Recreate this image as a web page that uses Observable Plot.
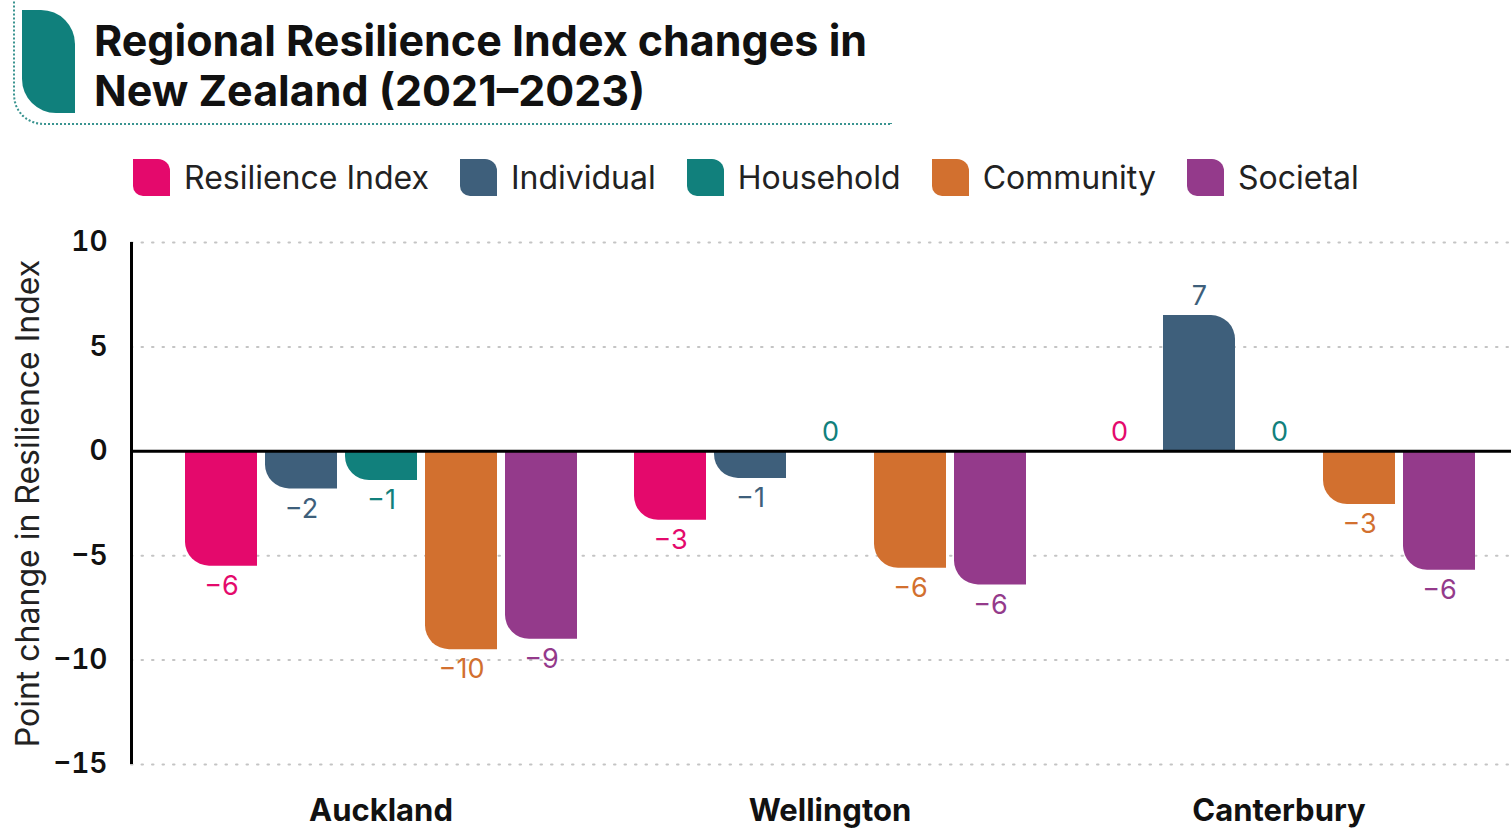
<!DOCTYPE html>
<html><head><meta charset="utf-8">
<script src="https://cdn.jsdelivr.net/npm/d3@7"></script>
<script src="https://cdn.jsdelivr.net/npm/@observablehq/plot@0.6"></script>
<style>
html,body{margin:0;padding:0;background:#fff;width:1511px;height:829px;overflow:hidden;font-family:Inter,"Noto Sans",sans-serif;}
#title-box{position:absolute;left:13px;top:-4px;width:877px;height:127px;border-left:2px dotted #3a9490;border-bottom:2px dotted #3a9490;border-bottom-left-radius:30px;}
#leaf{position:absolute;left:22px;top:10px;width:53px;height:103px;background:#10807c;border-radius:0 34px 0 34px;}
#title{position:absolute;left:94px;top:15px;font-size:43px;font-weight:700;line-height:50px;color:#111;white-space:nowrap;}
#legend{position:absolute;left:133px;top:158px;display:flex;align-items:center;}
.item{display:flex;align-items:center;margin-right:31px;font-size:32px;color:#222;}
.sw{width:37px;height:37px;border-radius:0 12px 0 10px;margin-right:14px;}
#chart{position:absolute;left:0;top:200px;width:1529px;height:629px;}
#chart svg{position:absolute;left:0;top:0;}
#chart svg.axisC g[aria-label^="y-axis"] text{font-weight:600;}
</style>
</head><body>
<div id="title-box"></div>
<div id="leaf"></div>
<div id="title">Regional Resilience Index changes in<br>New Zealand (2021–2023)</div>
<div id="legend"></div>
<div id="chart"></div>
<script>
const regions = ["Auckland", "Wellington", "Canterbury"];
const categories = ["Resilience Index", "Individual", "Household", "Community", "Societal"];
const colors = ["#e4096c", "#3e5f7b", "#11807c", "#d2702f", "#943a8b"];
const aucklandValues = [-5.5, -1.8, -1.4, -9.5, -9.0];
const wellingtonValues = [-3.3, -1.3, 0, -5.6, -6.4];
const canterburyValues = [0, 6.5, 0, -2.55, -5.7];
const yTicks = [-15, -10, -5, 0, 5, 10];
const yLabel = "Point change in Resilience Index";

const valuesByRegion = [aucklandValues, wellingtonValues, canterburyValues];
const rows = regions.flatMap((r, i) => categories.map((c, j) => ({region: r, category: c, value: valuesByRegion[i][j]})));
const fmt = d3.format(".0f");

// legend
const legend = document.getElementById("legend");
categories.forEach((c, i) => {
  const it = document.createElement("div"); it.className = "item";
  const sw = document.createElement("div"); sw.className = "sw"; sw.style.background = colors[i];
  const tx = document.createElement("span"); tx.textContent = c;
  it.appendChild(sw); it.appendChild(tx); legend.appendChild(it);
});

const W = 1529, H = 629;
const common = {width: W, height: H, marginLeft: 131, marginRight: 0, marginTop: 42, marginBottom: 65};
const font = "Inter, 'Noto Sans', sans-serif";

// layer A: grid
const gridPlot = Plot.plot({
  ...common,
  style: {background: "transparent", fontFamily: font},
  y: {domain: [-15, 10], axis: null},
  marks: [
    Plot.ruleY(yTicks.filter(t => t !== 0), {stroke: "#c4c4c4", strokeWidth: 2, strokeDasharray: "1.5,9", strokeLinecap: "round"})
  ]
});

// layer B: bars
const barPlot = Plot.plot({
  ...common,
  style: {background: "transparent", fontFamily: font, overflow: "visible"},
  y: {domain: [-15, 10], axis: null},
  x: {domain: categories, padding: 0.1, axis: null},
  fx: {domain: regions, paddingInner: 0.089, paddingOuter: 0.1, axis: null},
  color: {domain: categories, range: colors},
  marks: [
    Plot.barY(rows, {fx: "region", x: "category", y: "value", fill: "category"}),
    Plot.text(rows.filter(d => d.value < 0), {fx: "region", x: "category", y: "value", text: d => fmt(d.value), fill: "category", dy: 20, fontSize: 27}),
    Plot.text(rows.filter(d => d.value >= 0), {fx: "region", x: "category", y: "value", text: d => fmt(d.value), fill: "category", dy: -19, fontSize: 27}),
    Plot.text(regions, {fx: d => d, text: d => d, frameAnchor: "bottom", dy: 56, fontSize: 31, fontWeight: 700, fill: "#111"})
  ]
});

// rounded single corner on bars
const y0 = barPlot.scale("y").apply(0);
barPlot.querySelectorAll('g[aria-label="bar"] rect').forEach(rect => {
  const x = +rect.getAttribute("x"), y = +rect.getAttribute("y");
  const w = +rect.getAttribute("width"), h = +rect.getAttribute("height");
  if (!(h > 0)) return;
  const r = Math.min(24, h, w / 2);
  let d;
  if (y + h <= y0 + 0.5) {
    d = `M${x},${y + h}V${y}H${x + w - r}A${r},${r} 0 0 1 ${x + w},${y + r}V${y + h}Z`;
  } else {
    d = `M${x},${y}H${x + w}V${y + h}H${x + r}A${r},${r} 0 0 1 ${x},${y + h - r}Z`;
  }
  const p = document.createElementNS("http://www.w3.org/2000/svg", "path");
  for (const a of rect.attributes) if (!["x", "y", "width", "height"].includes(a.name)) p.setAttribute(a.name, a.value);
  p.setAttribute("d", d);
  rect.replaceWith(p);
});

// layer C: axes and zero line
const axisPlot = Plot.plot({
  ...common,
  style: {background: "transparent", fontFamily: font, fontSize: "28px", color: "#111", overflow: "visible"},
  x: {domain: [0, 1], axis: null},
  y: {domain: [-15, 10], ticks: yTicks, tickFormat: d3.format("d"), tickSize: 0, tickPadding: 24, label: null},
  marks: [
    Plot.ruleX([0], {stroke: "#000", strokeWidth: 3}),
    Plot.ruleY([0], {stroke: "#000", strokeWidth: 3}),
    Plot.text([yLabel], {frameAnchor: "left", textAnchor: "middle", rotate: -90, dx: -103, text: d => d, fontSize: 32, fontWeight: 400, fill: "#222"})
  ]
});
axisPlot.classList.add("axisC");

const chart = document.getElementById("chart");
chart.appendChild(gridPlot);
chart.appendChild(barPlot);
chart.appendChild(axisPlot);
</script>
</body></html>
